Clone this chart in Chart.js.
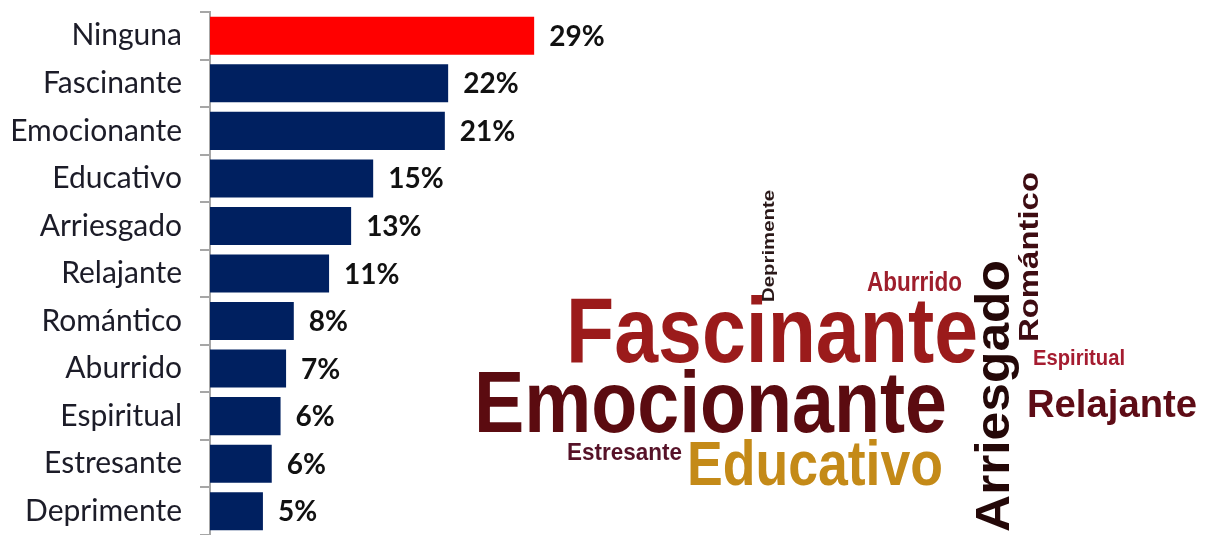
<!DOCTYPE html>
<html lang="es">
<head>
<meta charset="utf-8">
<title>Palabras</title>
<script src="https://cdn.jsdelivr.net/npm/chart.js@4.4.1/dist/chart.umd.min.js"></script>
<style>
  html, body { margin: 0; padding: 0; background: #fff; }
  #pagina { position: relative; width: 1207px; height: 535px; overflow: hidden; }
  #caja { position: absolute; left: 0; top: 0; width: 640px; height: 535px; }
  #nube { position: absolute; left: 0; top: 0; pointer-events: none; }
  #nube text { font-family: "Liberation Sans", Arial, sans-serif; font-weight: bold; }
</style>
</head>
<body>
<div id="pagina">
  <div id="caja"><canvas id="grafico"></canvas></div>
  <svg id="nube" width="1207" height="535" xmlns="http://www.w3.org/2000/svg"></svg>
</div>
<script>
// Datos
const categorias = ["Ninguna", "Fascinante", "Emocionante", "Educativo", "Arriesgado", "Relajante",
                    "Romántico", "Aburrido", "Espiritual", "Estresante", "Deprimente"];
const valores = [29.4, 21.6, 21.3, 14.8, 12.8, 10.8, 7.6, 6.9, 6.4, 5.6, 4.8];
const etiquetas = ["29%", "22%", "21%", "15%", "13%", "11%", "8%", "7%", "6%", "6%", "5%"];

// Nube de palabras (texto, posición y estilo)
const nube = [
    { t: "Fascinante",  x: 566,  y: 362, s: 93, w: 412, c: "#9b1b1b" },
    { t: "Emocionante", x: 474,  y: 432, s: 88, w: 473, c: "#5b0b10" },
    { t: "Educativo",   x: 687,  y: 485, s: 63, w: 256, c: "#c48a18" },
    { t: "Estresante",  x: 567,  y: 460, s: 24, w: 115, c: "#561228" },
    { t: "Aburrido",    x: 867,  y: 291, s: 28, w: 95,  c: "#9e1e2c" },
    { t: "Espiritual",  x: 1033, y: 365, s: 22, w: 92,  c: "#a51c30" },
    { t: "Relajante",   x: 1027, y: 417, s: 38, w: 170, c: "#5e0c16" },
    { t: "Deprimente",  x: 774,  y: 302, s: 16, w: 112, c: "#2a1818", vertical: true },
    { t: "Arriesgado",  x: 1009, y: 532, s: 48, w: 272, c: "#240808", vertical: true },
    { t: "Romántico",   x: 1038, y: 342, s: 28, w: 170, c: "#3e0c12", vertical: true }
];

const rojo = "#ff0000";
const azul = "#002060";
const gris = "#a6a6a6";

// Etiquetas de valor al final de cada barra
const etiquetasPlugin = {
    id: "etiquetas",
    afterDatasetsDraw(chart) {
        const ctx = chart.ctx;
        const meta = chart.getDatasetMeta(0);
        ctx.save();
        ctx.font = "bold 28px Lato";
        ctx.fillStyle = "#111111";
        ctx.textBaseline = "middle";
        ctx.textAlign = "left";
        meta.data.forEach((bar, i) => {
            ctx.fillText(etiquetas[i], bar.x + 15, bar.y + 1);
        });
        ctx.restore();
    }
};

new Chart(document.getElementById("grafico"), {
    type: "bar",
    data: {
        labels: categorias,
        datasets: [{
            data: valores,
            backgroundColor: (c) => c.dataIndex === 0 ? rojo : azul,
            borderWidth: 0,
            barPercentage: 0.8,
            categoryPercentage: 1.0
        }]
    },
    options: {
        indexAxis: "y",
        responsive: true,
        maintainAspectRatio: false,
        animation: false,
        layout: { padding: { top: 12, bottom: 0, left: 0, right: 0 } },
        plugins: {
            legend: { display: false },
            tooltip: { enabled: false }
        },
        scales: {
            x: { display: false, min: 0, max: 39 },
            y: {
                ticks: {
                    font: { family: "Lato", size: 30 },
                    color: "#1c1c28",
                    padding: 18
                },
                grid: {
                    drawOnChartArea: false,
                    drawTicks: true,
                    tickLength: 10,
                    color: gris,
                    lineWidth: 2,
                    offset: true
                },
                border: { color: gris, width: 2 },
                afterFit(scale) {
                    scale.width = 210;
                    scale.paddingTop = 0;
                    scale.paddingBottom = 0;
                }
            }
        }
    },
    plugins: [etiquetasPlugin]
});

// Dibujar la nube como texto SVG
const svg = document.getElementById("nube");
const NS = "http://www.w3.org/2000/svg";
nube.forEach(p => {
    const el = document.createElementNS(NS, "text");
    el.textContent = p.t;
    el.setAttribute("font-size", p.s);
    el.setAttribute("fill", p.c);
    el.setAttribute("textLength", p.w);
    el.setAttribute("lengthAdjust", "spacingAndGlyphs");
    if (p.vertical) {
        el.setAttribute("x", 0);
        el.setAttribute("y", 0);
        el.setAttribute("transform", `translate(${p.x},${p.y}) rotate(-90)`);
    } else {
        el.setAttribute("x", p.x);
        el.setAttribute("y", p.y);
    }
    svg.appendChild(el);
});
</script>
</body>
</html>
